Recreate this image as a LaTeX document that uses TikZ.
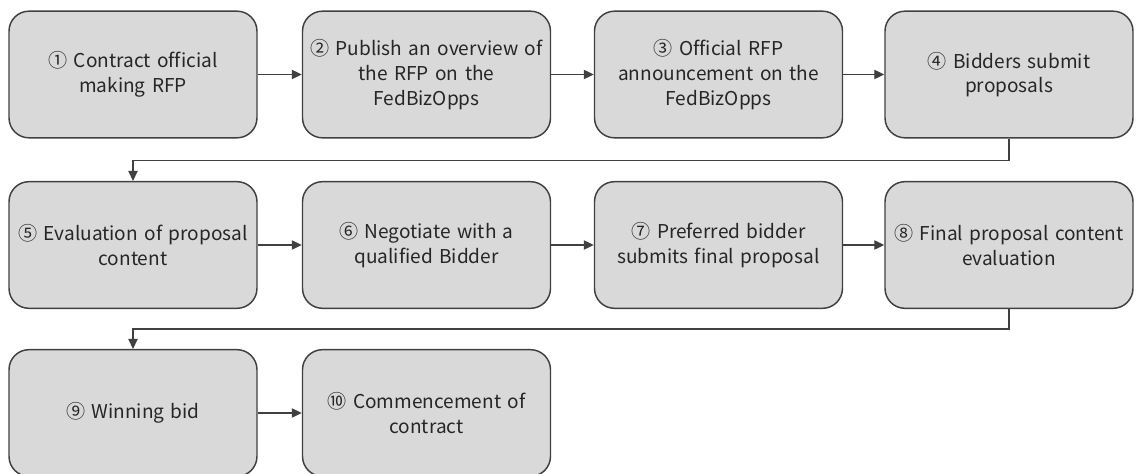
\documentclass[tikz,border=0pt]{standalone}
\usepackage{fontspec}
\setmainfont{Noto Sans CJK KR}[Ligatures=NoCommon, WordSpace={1.5,1,1}]
\usetikzlibrary{arrows.meta}
\definecolor{boxfill}{HTML}{D9D9D9}
\definecolor{boxline}{HTML}{404040}
\definecolor{txt}{HTML}{262626}
\begin{document}
\begin{tikzpicture}[x=0.75pt,y=-0.75pt,
  stepbox/.style={draw=boxline, fill=boxfill, line width=1.1pt, rounded corners=15pt,
    minimum width=186pt, minimum height=95pt, align=center, text=txt,
    font=\fontsize{14.3}{18.5}\selectfont, inner sep=2pt},
  conn/.style={draw=boxline, line width=0.9pt, -{Triangle[length=7.5pt,width=7pt]}}]
\useasboundingbox (0,0) rectangle (1136,474);
\node[stepbox] (b1) at (133,74.5) {① Contract official\\making RFP};
\node[stepbox] (b2) at (426.5,74.5) {② Publish an overview of\\the RFP on the\\FedBizOpps};
\node[stepbox] (b3) at (718.5,74.5) {③ Official RFP\\announcement on the\\FedBizOpps};
\node[stepbox] (b4) at (1009,74.5) {④ Bidders submit\\proposals};
\node[stepbox] (b5) at (133,245) {⑤ Evaluation of proposal\\content};
\node[stepbox] (b6) at (426.5,245) {⑥ Negotiate with a\\qualified Bidder};
\node[stepbox] (b7) at (718.5,245) {⑦ Preferred bidder\\submits final proposal};
\node[stepbox] (b8) at (1009,245) {⑧ Final proposal content\\evaluation};
\node[stepbox] (b9) at (133,413) {⑨ Winning bid};
\node[stepbox] (b10) at (426.5,413) {⑩ Commencement of\\contract};
\draw[conn] (b1) -- (b2);
\draw[conn] (b2) -- (b3);
\draw[conn] (b3) -- (b4);
\draw[conn] (b4.south) -- ++(0,22) -| (b5.north);
\draw[conn] (b5) -- (b6);
\draw[conn] (b6) -- (b7);
\draw[conn] (b7) -- (b8);
\draw[conn] (b8.south) -- ++(0,20) -| (b9.north);
\draw[conn] (b9) -- (b10);
\end{tikzpicture}
\end{document}
